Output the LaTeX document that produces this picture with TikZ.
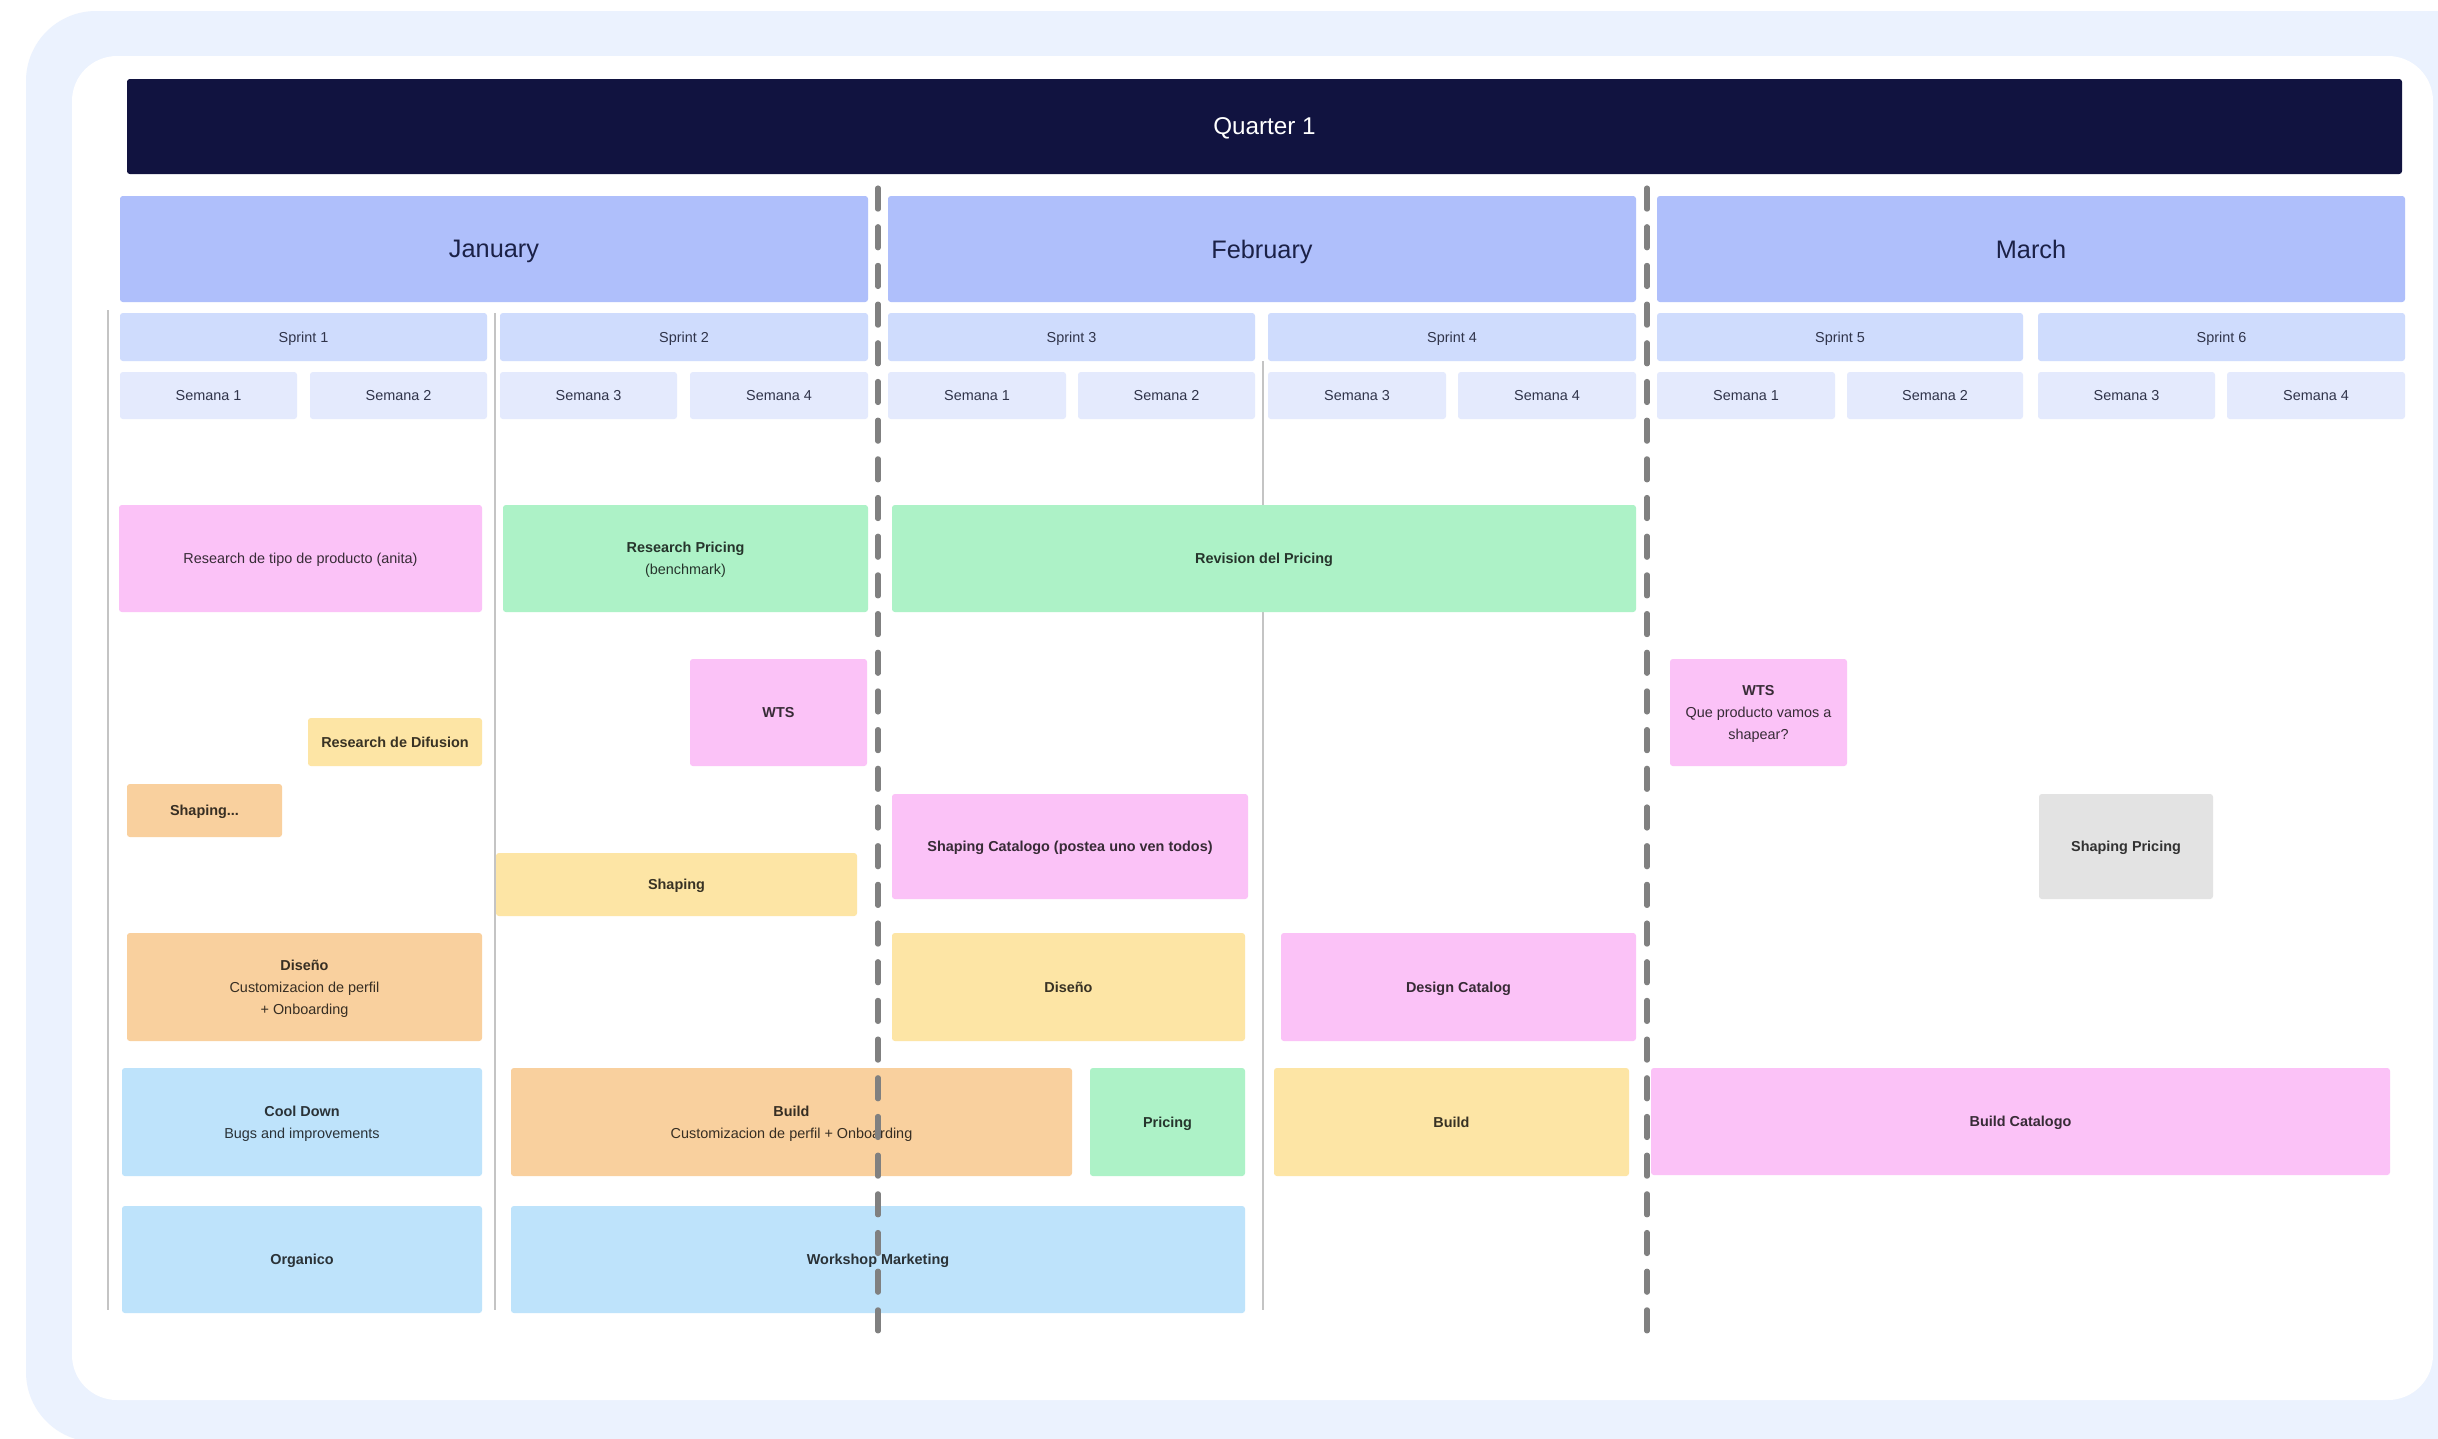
\documentclass[tikz,border=0pt]{standalone}
\usepackage{fontspec}
\setmainfont{Liberation Sans}
\definecolor{outerbg}{HTML}{EBF2FE}
\definecolor{navy}{HTML}{111340}
\definecolor{monthc}{HTML}{AFBFFB}
\definecolor{sprintc}{HTML}{CFDCFD}
\definecolor{weekc}{HTML}{E4EAFD}
\definecolor{pinkc}{HTML}{FBC2F7}
\definecolor{greenc}{HTML}{ADF2C7}
\definecolor{yellowc}{HTML}{FDE5A5}
\definecolor{orangec}{HTML}{F9D09E}
\definecolor{bluec}{HTML}{BEE3FB}
\definecolor{grayc}{HTML}{E3E3E3}
\definecolor{hdrtext}{HTML}{1B2147}
\definecolor{subtext}{HTML}{30344A}
\definecolor{dashc}{HTML}{808080}
\definecolor{gridc}{HTML}{C4C4C4}
\newcommand\taskfont{\fontsize{4.1}{6.2}\selectfont}
\newcommand\subfont{\fontsize{4.1}{5}\selectfont}
\newcommand\monthfont{\fontsize{7.2}{8}\selectfont}
\newcommand\qfont{\fontsize{6.9}{8}\selectfont}
% name, x1, y1, x2, y2, fill, text
\newcommand\tsk[7]{\node[tbox,fill=#6,text=#6!22!black,minimum width={(#4-#2)*0.01cm},minimum height={(#5-#3)*0.01cm}] (#1) at ({(#2+#4)/2},{(#3+#5)/2}) {#7};}
\newcommand\hbx[8]{\node[hbox,fill=#6,text=#7,minimum width={(#4-#2)*0.01cm},minimum height={(#5-#3)*0.01cm}] (#1) at ({(#2+#4)/2},{(#3+#5)/2}) {#8};}
\begin{document}
\begin{tikzpicture}[x=0.01cm,y=-0.01cm,
  tbox/.style={draw=none,rounded corners=0.8pt,inner sep=0pt,outer sep=0pt,align=center,font=\taskfont,text depth=0pt},
  hbox/.style={draw=none,rounded corners=0.8pt,inner sep=0pt,outer sep=0pt,align=center,text depth=0pt},
  gridline/.style={draw=gridc,line width=0.4pt},
  dashline/.style={draw=dashc,line width=1.45pt,line cap=round,dash pattern=on 6pt off 5pt}]
\clip (0,0) rectangle (2438,1438);
\fill[white] (0,0) rectangle (2438,1438);
\fill[outerbg,rounded corners=0.7cm] (26,11) rectangle (2520,1442);
\fill[white,rounded corners=0.45cm] (72,56) rectangle (2433,1400);

% grid lines
\coordinate (g1t) at (108,310); \coordinate (g1b) at (108,1310);
\coordinate (g2t) at (495,313); \coordinate (g2b) at (495,1310);
\coordinate (g3t) at (1263,361); \coordinate (g3b) at (1263,1310);
\draw[gridline] (g1t) -- (g1b);
\draw[gridline] (g2t) -- (g2b);
\draw[gridline] (g3t) -- (g3b);

% header
\hbx{q1}{127}{79}{2402}{174}{navy}{white}{\qfont Quarter 1}
\hbx{jan}{120}{196}{868}{302}{monthc}{hdrtext}{\monthfont January}
\hbx{feb}{888}{196}{1636}{302}{monthc}{hdrtext}{\monthfont February}
\hbx{mar}{1657}{196}{2405}{302}{monthc}{hdrtext}{\monthfont March}
\hbx{sp1}{120}{313}{487}{361}{sprintc}{subtext}{\subfont Sprint 1}
\hbx{sp2}{500}{313}{868}{361}{sprintc}{subtext}{\subfont Sprint 2}
\hbx{sp3}{888}{313}{1255}{361}{sprintc}{subtext}{\subfont Sprint 3}
\hbx{sp4}{1268}{313}{1636}{361}{sprintc}{subtext}{\subfont Sprint 4}
\hbx{sp5}{1657}{313}{2023}{361}{sprintc}{subtext}{\subfont Sprint 5}
\hbx{sp6}{2038}{313}{2405}{361}{sprintc}{subtext}{\subfont Sprint 6}
\hbx{j1}{120}{372}{297}{419}{weekc}{subtext}{\subfont Semana 1}
\hbx{j2}{310}{372}{487}{419}{weekc}{subtext}{\subfont Semana 2}
\hbx{j3}{500}{372}{677}{419}{weekc}{subtext}{\subfont Semana 3}
\hbx{j4}{690}{372}{868}{419}{weekc}{subtext}{\subfont Semana 4}
\hbx{f1}{888}{372}{1066}{419}{weekc}{subtext}{\subfont Semana 1}
\hbx{f2}{1078}{372}{1255}{419}{weekc}{subtext}{\subfont Semana 2}
\hbx{f3}{1268}{372}{1446}{419}{weekc}{subtext}{\subfont Semana 3}
\hbx{f4}{1458}{372}{1636}{419}{weekc}{subtext}{\subfont Semana 4}
\hbx{m1}{1657}{372}{1835}{419}{weekc}{subtext}{\subfont Semana 1}
\hbx{m2}{1847}{372}{2023}{419}{weekc}{subtext}{\subfont Semana 2}
\hbx{m3}{2038}{372}{2215}{419}{weekc}{subtext}{\subfont Semana 3}
\hbx{m4}{2227}{372}{2405}{419}{weekc}{subtext}{\subfont Semana 4}

% tasks
\tsk{rtipo}{119}{505}{482}{612}{pinkc}{Research de tipo de producto (anita)}
\tsk{rpricing}{503}{505}{868}{612}{greenc}{\textbf{Research Pricing}\\(benchmark)}
\tsk{revision}{892}{505}{1636}{612}{greenc}{\textbf{Revision del Pricing}}
\tsk{wtsa}{690}{659}{867}{766}{pinkc}{\textbf{WTS}}
\tsk{wtsb}{1670}{659}{1847}{766}{pinkc}{\textbf{WTS}\\Que producto vamos a\\shapear?}
\tsk{rdif}{308}{718}{482}{766}{yellowc}{\textbf{Research de Difusion}}
\tsk{shapa}{127}{784}{282}{837}{orangec}{\textbf{Shaping...}}
\tsk{shapcat}{892}{794}{1248}{899}{pinkc}{\textbf{Shaping Catalogo (postea uno ven todos)}}
\tsk{shappr}{2039}{794}{2213}{899}{grayc}{\textbf{Shaping Pricing}}
\tsk{shapb}{496}{853}{857}{916}{yellowc}{\textbf{Shaping}}
\tsk{disa}{127}{933}{482}{1041}{orangec}{\textbf{Diseño}\\Customizacion de perfil\\+ Onboarding}
\tsk{disb}{892}{933}{1245}{1041}{yellowc}{\textbf{Diseño}}
\tsk{descat}{1281}{933}{1636}{1041}{pinkc}{\textbf{Design Catalog}}
\tsk{cool}{122}{1068}{482}{1176}{bluec}{\textbf{Cool Down}\\Bugs and improvements}
\tsk{builda}{511}{1068}{1072}{1176}{orangec}{\textbf{Build}\\Customizacion de perfil + Onboarding}
\tsk{pricing}{1090}{1068}{1245}{1176}{greenc}{\textbf{Pricing}}
\tsk{buildb}{1274}{1068}{1629}{1176}{yellowc}{\textbf{Build}}
\tsk{buildcat}{1651}{1068}{2390}{1175}{pinkc}{\textbf{Build Catalogo}}
\tsk{organico}{122}{1206}{482}{1313}{bluec}{\textbf{Organico}}
\tsk{workshop}{511}{1206}{1245}{1313}{bluec}{\textbf{Workshop Marketing}}

% month separators
\coordinate (d1t) at (878,188); \coordinate (d1b) at (878,1337);
\coordinate (d2t) at (1647,188); \coordinate (d2b) at (1647,1333);
\draw[dashline] (d1t) -- (d1b);
\draw[dashline] (d2t) -- (d2b);
\end{tikzpicture}
\end{document}
